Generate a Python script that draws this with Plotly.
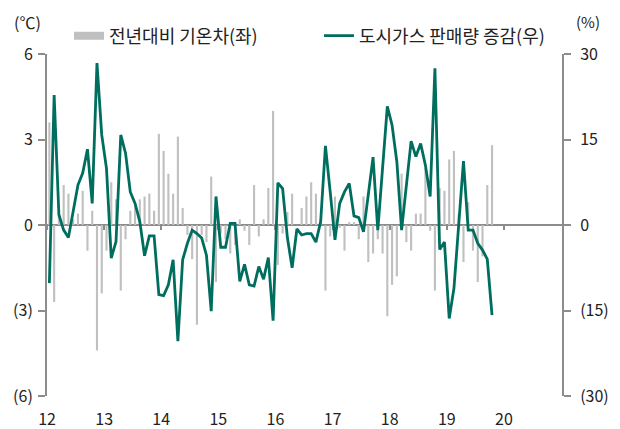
import plotly.graph_objects as go

# ---- data (monthly, Jan 2012 - Oct 2019) ----
year_labels = ["12", "13", "14", "15", "16", "17", "18", "19", "20"]

temp_diff = [  # 전년대비 기온차 (°C)
    3.6, -2.7, 0.4, 1.4, 1.1, 0.2, 0.4, 1.2, -0.9, 0.5, -4.4, -2.4,
    -0.9, 1.5, 0.9, -2.3, -0.5, 0.5, 0.8, 0.9, 1.0, 1.1, 0.5, 3.2,
    2.6, 1.8, 1.1, 3.1, 0.6, -0.35, -1.2, -3.5, -0.35, -0.6, 1.7, -2.0,
    -0.3, -0.5, -1.0, -0.7, 0.2, -0.2, -0.7, 1.4, -0.4, 0.2, 1.3, 4.0,
    -1.4, -0.3, 0.45, 1.1, 0.0, 0.6, 1.0, 1.5, 1.1, 0.2, -2.3, -0.4,
    1.0, -0.1, -0.9, 0.1, 0.1, -0.5, 1.0, -1.3, -1.0, -0.5, -1.0, -3.2,
    -2.1, -1.8, 1.8, -0.6, -0.9, 0.4, 0.4, 2.0, -0.2, -2.3, 1.3, 1.2,
    2.3, 2.6, 0.4, -1.3, 0.8, -0.9, -2.0, -1.1, 1.4, 2.8,
]

gas_growth = [  # 도시가스 판매량 증감 (%)
    -10.2, 22.8, 1.8, -0.9, -2.2, 2.3, 7.0, 9.1, 13.3, 3.8, 28.4, 15.8,
    9.9, -5.8, -2.9, 15.8, 12.6, 5.8, 3.8, 0.6, -5.4, -1.9, -1.9, -12.2,
    -12.4, -10.5, -6.1, -20.4, -6.1, -3.2, -0.9, -1.5, -2.3, -5.3, -15.1, 5.0,
    -3.9, -3.9, 0.3, 0.3, -9.9, -6.9, -10.5, -10.7, -7.3, -9.5, -5.7, -16.8,
    7.4, 6.4, -2.2, -7.5, -0.7, -1.75, -1.5, -1.5, -3.0, 0.6, 13.9, 5.8,
    -2.6, 3.8, 5.8, 7.3, 1.6, 1.3, -1.2, 5.3, 11.9, -0.9, 9.9, 20.8,
    17.5, 11.1, -0.9, 7.0, 14.7, 12.0, 14.3, 10.5, 5.0, 27.5, -4.3, -3.0,
    -16.4, -11.1, 0.0, 11.2, -0.9, -0.9, -3.2, -4.4, -6.0, -15.8,
]

left_ticks = [-6, -3, 0, 3, 6]
left_text = ["(6)", "(3)", "0", "3", "6"]
right_ticks = [-30, -15, 0, 15, 30]
right_text = ["(30)", "(15)", "0", "15", "30"]

months = list(range(len(temp_diff)))
x_mid = [m + 0.5 for m in months]
year_ticks = [12 * i for i in range(len(year_labels))]

GRAY_BAR = "#C0C0C0"
TEAL = "#006E5F"
AXIS = "#8C8C8C"
TXT = "#222222"
FONT = "Noto Sans CJK KR"

fig = go.Figure()
fig.add_trace(go.Bar(
    x=x_mid, y=temp_diff, width=0.45, marker=dict(color=GRAY_BAR, line=dict(width=0)),
    name="전년대비 기온차(좌)", showlegend=False, xaxis="x", yaxis="y",
))
# legend proxy for the bar series (wide flat grey swatch)
fig.add_trace(go.Scatter(
    x=[None], y=[None], mode="lines", line=dict(color=GRAY_BAR, width=8),
    name="전년대비 기온차(좌)", xaxis="x", yaxis="y",
))
fig.add_trace(go.Scatter(
    x=x_mid, y=gas_growth, mode="lines", line=dict(color=TEAL, width=2.8),
    name="도시가스 판매량 증감(우)", xaxis="x2", yaxis="y2",
))

# page body has an 8px default margin, so the figure is 8px smaller and
# the margins are offset to land the plot where the reference has it
fig.update_layout(
    width=612, height=421,
    margin=dict(l=39, r=58, t=46, b=33, autoexpand=False),
    plot_bgcolor="white", paper_bgcolor="white",
    font=dict(family=FONT, size=16, color=TXT),
    showlegend=True,
    legend=dict(
        orientation="h", x=0.0427, y=1.0526, xanchor="left", yanchor="middle",
        font=dict(size=18, color=TXT), bgcolor="rgba(0,0,0,0)",
        entrywidth=205, entrywidthmode="pixels", tracegroupgap=0,
    ),
    xaxis=dict(
        range=[0, 108.2], tickvals=year_ticks, ticktext=year_labels,
        showline=False, showgrid=False, zeroline=False, ticks="",
        ticklabelstandoff=12, tickfont=dict(size=16, color=TXT), automargin=False,
    ),
    xaxis2=dict(
        overlaying="x", matches="x", anchor="free", position=0.5,
        showline=True, linecolor=AXIS, linewidth=2,
        ticks="outside", ticklen=4, tickwidth=2, tickcolor=AXIS,
        tickvals=year_ticks, showticklabels=False,
        showgrid=False, zeroline=False, layer="below traces", automargin=False,
    ),
    yaxis=dict(
        range=[-6, 6], tickvals=left_ticks, ticktext=left_text,
        showline=True, linecolor=AXIS, linewidth=2,
        ticks="outside", ticklen=7, tickwidth=2, tickcolor=AXIS,
        showgrid=False, zeroline=False, ticklabelstandoff=2,
        tickfont=dict(size=16, color=TXT), automargin=False,
    ),
    yaxis2=dict(
        range=[-30, 30], tickvals=right_ticks, ticktext=right_text,
        overlaying="y", side="right", anchor="x",
        showline=True, linecolor=AXIS, linewidth=2,
        ticks="outside", ticklen=7, tickwidth=2, tickcolor=AXIS,
        showgrid=False, zeroline=False, ticklabelstandoff=6,
        tickfont=dict(size=16, color=TXT), automargin=False,
    ),
    annotations=[
        dict(text="(℃)", xref="paper", yref="paper", x=-0.037, y=1.094,
             showarrow=False, font=dict(size=16, color=TXT), xanchor="center", yanchor="middle"),
        dict(text="(%)", xref="paper", yref="paper", x=1.05, y=1.096,
             showarrow=False, font=dict(size=15, color=TXT), xanchor="center", yanchor="middle"),
    ],
)

fig.write_html("out.html")
